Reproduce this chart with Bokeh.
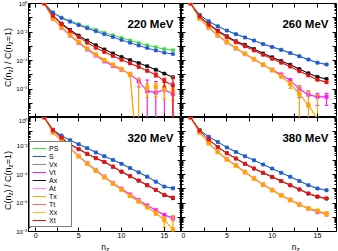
import numpy as np
from bokeh.plotting import figure
from bokeh.layouts import gridplot
from bokeh.models import (Range1d, FixedTicker, LinearAxis, LogAxis, Label,
                          Legend, LegendItem, CustomJSTickFormatter)
from bokeh.embed import file_html
from bokeh.resources import INLINE

FONT = "Liberation Sans"

# ---------------- data ----------------
n_z = [1, 2, 3, 4, 5, 6, 7, 8, 9, 10, 11, 12, 13, 14, 15, 16]
panel_titles = ["220 MeV", "260 MeV", "320 MeV", "380 MeV"]
channel_names = ["PS", "S", "Vx", "Vt", "Ax", "At", "Tx", "Tt", "Xx", "Xt"]

x_tick_values = [0, 2.5, 5, 7.5, 10, 12.5, 15]
x_tick_labels = ["0", "", "5", "", "10", "", "15"]
y_tick_values = [1e-8, 1e-7, 1e-6, 1e-5, 1e-4, 1e-3, 1e-2, 1e-1, 1e0]
y_tick_labels = ["10⁻⁸", "", "10⁻⁶", "", "10⁻⁴", "", "10⁻²", "", "10⁰"]

# 220 MeV
ps_220 = [1.0, 2.40e-1, 1.05e-1, 6.03e-2, 3.55e-2, 2.24e-2, 1.41e-2, 8.91e-3,
          5.89e-3, 3.89e-3, 2.51e-3, 1.70e-3, 1.17e-3, 8.51e-4, 6.31e-4, 5.25e-4]
s_220 = [1.0, 2.29e-1, 9.55e-2, 5.25e-2, 3.02e-2, 1.82e-2, 1.12e-2, 6.92e-3,
         4.37e-3, 2.75e-3, 1.74e-3, 1.12e-3, 7.41e-4, 5.01e-4, 3.55e-4, 2.82e-4]
va_x_220 = [1.0, 1.41e-1, 3.98e-2, 1.41e-2, 5.62e-3, 2.51e-3, 1.17e-3, 6.03e-4,
            3.16e-4, 1.78e-4, 1.07e-4, 6.61e-5, 3.98e-5, 2.24e-5, 1.20e-5, 6.61e-6]
tx_t_220 = [1.0, 1.32e-1, 3.55e-2, 1.17e-2, 4.47e-3, 1.78e-3, 7.94e-4, 3.98e-4,
            2.09e-4, 1.12e-4, 6.31e-5, 3.55e-5, 1.91e-5, 1.00e-5, 3.55e-6, 1.78e-6]
va_t_220 = [1.0, 8.32e-2, 2.00e-2, 5.62e-3, 1.78e-3, 6.03e-4, 2.24e-4, 8.91e-5,
            4.17e-5, 2.24e-5, 1.12e-5, 3.55e-6, 7.08e-7, 5.62e-7, 8.91e-7, 4.47e-7]
tx_x_220 = [1.0, 8.91e-2, 2.24e-2, 6.31e-3, 2.00e-3, 7.08e-4, 2.63e-4, 1.07e-4,
            5.01e-5, 2.51e-5, 1.05e-5, -2.0e-6, 1.26e-6, 1.41e-6, 1.00e-6, 7.94e-7]
va_t_err_220 = [0.01, 0.01, 0.01, 0.02, 0.02, 0.03, 0.04, 0.05, 0.08, 0.12, 0.2, 0.6, 5.0, 5.0, 4.0, 5.0]
tx_x_err_220 = [0.01, 0.01, 0.01, 0.02, 0.02, 0.03, 0.04, 0.06, 0.1, 0.15, 0.3, 3.5, 0.8, 0.8, 0.8, 0.8]
tx_t_err_220 = [0.01, 0.01, 0.01, 0.01, 0.02, 0.02, 0.02, 0.03, 0.04, 0.05, 0.08, 0.1, 0.15, 0.3, 0.6, 3.0]

# 260 MeV
ps_260 = [1.0, 1.58e-1, 5.62e-2, 2.51e-2, 1.26e-2, 7.08e-3, 4.17e-3, 2.51e-3,
          1.41e-3, 8.91e-4, 5.62e-4, 3.31e-4, 2.00e-4, 1.17e-4, 7.08e-5, 5.25e-5]
s_260 = [1.0, 1.58e-1, 5.62e-2, 2.51e-2, 1.26e-2, 7.08e-3, 4.17e-3, 2.51e-3,
         1.41e-3, 8.91e-4, 5.62e-4, 3.31e-4, 2.00e-4, 1.17e-4, 7.08e-5, 5.25e-5]
va_x_260 = [1.0, 1.26e-1, 3.55e-2, 1.26e-2, 5.01e-3, 2.24e-3, 1.26e-3, 6.31e-4,
            3.16e-4, 1.66e-4, 9.33e-5, 5.01e-5, 2.51e-5, 1.26e-5, 7.08e-6, 5.01e-6]
tx_t_260 = [1.0, 1.20e-1, 3.16e-2, 1.12e-2, 4.27e-3, 1.91e-3, 1.00e-3, 5.01e-4,
            2.51e-4, 1.32e-4, 7.08e-5, 3.72e-5, 1.78e-5, 8.91e-6, 4.47e-6, 3.02e-6]
va_t_260 = [1.0, 8.91e-2, 2.00e-2, 5.62e-3, 1.91e-3, 7.08e-4, 2.82e-4, 1.20e-4,
            5.01e-5, 2.24e-5, 1.05e-5, 3.98e-6, 1.00e-6, 3.98e-7, 2.82e-7, 2.82e-7]
tx_x_260 = [1.0, 8.91e-2, 2.09e-2, 6.03e-3, 2.00e-3, 7.59e-4, 3.02e-4, 1.26e-4,
            5.25e-5, 2.09e-5, 7.94e-6, 2.24e-6, 4.47e-7, 7.08e-8, 7.94e-9, -1.0e-7]
va_t_err_260 = [0.01, 0.01, 0.01, 0.02, 0.02, 0.03, 0.04, 0.05, 0.07, 0.1, 0.15, 0.3, 0.75, 0.75, 0.75, 0.75]
tx_x_err_260 = [0.01, 0.01, 0.01, 0.02, 0.02, 0.03, 0.04, 0.06, 0.1, 0.15, 0.25, 0.5, 2.5, 10.0, 50.0, 1.0]
tx_t_err_260 = [0.01, 0.01, 0.01, 0.01, 0.02, 0.02, 0.02, 0.03, 0.03, 0.04, 0.05, 0.06, 0.07, 0.08, 0.1, 0.1]

# 320 MeV
ps_320 = [1.0, 1.41e-1, 5.37e-2, 2.51e-2, 1.32e-2, 7.08e-3, 3.55e-3, 1.91e-3,
          1.05e-3, 5.62e-4, 2.82e-4, 1.41e-4, 7.08e-5, 3.16e-5, 1.41e-5, 1.07e-5]
s_320 = [1.0, 1.41e-1, 5.37e-2, 2.51e-2, 1.32e-2, 7.08e-3, 3.55e-3, 1.91e-3,
         1.05e-3, 5.62e-4, 2.82e-4, 1.41e-4, 7.08e-5, 3.16e-5, 1.41e-5, 1.07e-5]
va_x_320 = [1.0, 1.26e-1, 3.80e-2, 1.32e-2, 6.03e-3, 2.82e-3, 1.41e-3, 7.59e-4,
            3.55e-4, 1.58e-4, 7.59e-5, 3.72e-5, 1.78e-5, 8.32e-6, 3.55e-6, 2.19e-6]
tx_t_320 = [1.0, 1.26e-1, 3.80e-2, 1.32e-2, 6.03e-3, 2.82e-3, 1.41e-3, 7.59e-4,
            3.55e-4, 1.58e-4, 7.59e-5, 3.72e-5, 1.78e-5, 8.32e-6, 3.72e-6, 2.40e-6]
va_t_320 = [1.0, 8.91e-2, 2.51e-2, 7.08e-3, 2.00e-3, 6.31e-4, 2.09e-4, 7.08e-5,
            2.51e-5, 1.00e-5, 3.98e-6, 1.58e-6, 6.76e-7, 3.16e-7, 1.41e-7, 8.91e-8]
tx_x_320 = [1.0, 8.91e-2, 2.40e-2, 6.61e-3, 1.86e-3, 5.62e-4, 1.86e-4, 6.31e-5,
            2.24e-5, 8.51e-6, 3.16e-6, 1.26e-6, 5.01e-7, 2.00e-7, 6.31e-8, 1.41e-8]
va_t_err_320 = [0.01, 0.01, 0.01, 0.01, 0.02, 0.02, 0.02, 0.03, 0.03, 0.04, 0.05, 0.06, 0.08, 0.12, 0.3, 0.3]
tx_x_err_320 = [0.01, 0.01, 0.01, 0.01, 0.02, 0.02, 0.02, 0.03, 0.03, 0.04, 0.05, 0.08, 0.12, 0.3, 0.7, 8.0]
tx_t_err_320 = [0.01, 0.01, 0.01, 0.01, 0.01, 0.01, 0.02, 0.02, 0.02, 0.03, 0.03, 0.04, 0.04, 0.05, 0.06, 0.06]

# 380 MeV
ps_380 = [1.0, 1.32e-1, 4.47e-2, 1.91e-2, 7.94e-3, 3.80e-3, 1.91e-3, 1.00e-3,
          5.01e-4, 2.63e-4, 1.32e-4, 6.92e-5, 3.55e-5, 1.78e-5, 1.05e-5, 7.94e-6]
s_380 = [1.0, 1.32e-1, 4.47e-2, 1.91e-2, 7.94e-3, 3.80e-3, 1.91e-3, 1.00e-3,
         5.01e-4, 2.63e-4, 1.32e-4, 6.92e-5, 3.55e-5, 1.78e-5, 1.05e-5, 7.94e-6]
va_x_380 = [1.0, 1.17e-1, 2.82e-2, 8.51e-3, 3.16e-3, 1.32e-3, 5.62e-4, 2.63e-4,
            1.32e-4, 6.76e-5, 3.47e-5, 1.78e-5, 8.91e-6, 4.57e-6, 2.75e-6, 2.04e-6]
tx_t_380 = [1.0, 1.17e-1, 2.82e-2, 8.51e-3, 3.16e-3, 1.32e-3, 5.62e-4, 2.63e-4,
            1.32e-4, 6.76e-5, 3.47e-5, 1.78e-5, 8.91e-6, 4.68e-6, 2.82e-6, 2.09e-6]
va_t_380 = [1.0, 8.91e-2, 1.66e-2, 3.98e-3, 1.20e-3, 4.37e-4, 1.51e-4, 5.37e-5,
            2.00e-5, 8.32e-6, 3.55e-6, 1.66e-6, 7.94e-7, 3.98e-7, 2.40e-7, 1.66e-7]
tx_x_380 = [1.0, 8.91e-2, 1.58e-2, 3.80e-3, 1.15e-3, 4.17e-4, 1.45e-4, 5.13e-5,
            1.91e-5, 7.94e-6, 3.39e-6, 1.58e-6, 7.59e-7, 4.17e-7, 2.82e-7, 1.78e-7]
va_t_err_380 = [0.01, 0.01, 0.01, 0.01, 0.02, 0.02, 0.02, 0.03, 0.03, 0.04, 0.05, 0.06, 0.08, 0.12, 0.2, 0.25]
tx_x_err_380 = [0.01, 0.01, 0.01, 0.01, 0.02, 0.02, 0.02, 0.03, 0.03, 0.04, 0.05, 0.06, 0.08, 0.15, 0.25, 0.3]
tx_t_err_380 = [0.01, 0.01, 0.01, 0.01, 0.01, 0.01, 0.02, 0.02, 0.02, 0.03, 0.03, 0.04, 0.04, 0.05, 0.06, 0.06]

default_relerr = 0.03

panels = [
    dict(PS=ps_220, S=s_220, Vx=va_x_220, Ax=va_x_220, Vt=va_t_220, At=va_t_220,
         Tx=tx_x_220, Xx=tx_x_220, Tt=tx_t_220, Xt=tx_t_220,
         err=dict(Vt=va_t_err_220, At=va_t_err_220, Tx=tx_x_err_220, Xx=tx_x_err_220,
                  Tt=tx_t_err_220, Xt=tx_t_err_220)),
    dict(PS=ps_260, S=s_260, Vx=va_x_260, Ax=va_x_260, Vt=va_t_260, At=va_t_260,
         Tx=tx_x_260, Xx=tx_x_260, Tt=tx_t_260, Xt=tx_t_260,
         err=dict(Vt=va_t_err_260, At=va_t_err_260, Tx=tx_x_err_260, Xx=tx_x_err_260,
                  Tt=tx_t_err_260, Xt=tx_t_err_260)),
    dict(PS=ps_320, S=s_320, Vx=va_x_320, Ax=va_x_320, Vt=va_t_320, At=va_t_320,
         Tx=tx_x_320, Xx=tx_x_320, Tt=tx_t_320, Xt=tx_t_320,
         err=dict(Vt=va_t_err_320, At=va_t_err_320, Tx=tx_x_err_320, Xx=tx_x_err_320,
                  Tt=tx_t_err_320, Xt=tx_t_err_320)),
    dict(PS=ps_380, S=s_380, Vx=va_x_380, Ax=va_x_380, Vt=va_t_380, At=va_t_380,
         Tx=tx_x_380, Xx=tx_x_380, Tt=tx_t_380, Xt=tx_t_380,
         err=dict(Vt=va_t_err_380, At=va_t_err_380, Tx=tx_x_err_380, Xx=tx_x_err_380,
                  Tt=tx_t_err_380, Xt=tx_t_err_380)),
]

# ---------------- style ----------------
styles = {
    "PS": dict(color="#3ddc3d", lw=1.0, size=3.0),
    "S":  dict(color="#2a52e8", lw=1.0, size=3.0),
    "Vx": dict(color="#8c8c8c", lw=1.0, size=3.0),
    "Ax": dict(color="#111111", lw=1.0, size=3.0),
    "At": dict(color="#ff8cff", lw=1.2, size=4.0),
    "Vt": dict(color="#f020f0", lw=1.0, size=3.0),
    "Xx": dict(color="#ffc04d", lw=1.2, size=4.0),
    "Tx": dict(color="#ffa000", lw=1.0, size=3.0),
    "Tt": dict(color="#ff6a6a", lw=1.0, size=3.0),
    "Xt": dict(color="#e81010", lw=1.0, size=3.0),
}
draw_order = ["PS", "S", "Vx", "Ax", "At", "Vt", "Xx", "Tx", "Tt", "Xt"]

y_minor = [k * 10.0 ** d for d in range(-8, 0) for k in range(2, 10)]

FRAME_W, FRAME_H = 155, 114
YLAB_W = 13          # column holding the rotated y label
TICKLAB_W = 13       # border for the y tick labels
TOP_B = 3
RIGHT_B = 2
XTICK_H = 9          # border for the x tick labels
XLAB_H = 11          # row holding the n_z label


def borders(idx):
    left = idx % 2 == 0
    top = idx < 2
    return dict(l=TICKLAB_W if left else 0, r=0 if left else RIGHT_B,
                t=TOP_B if top else 0, b=0 if top else XTICK_H)


def x_range_for(idx):
    return Range1d(-0.85, 17.0) if idx % 2 == 0 else Range1d(0.0, 17.1)


def x_formatter(show):
    labels = x_tick_labels if show else [""] * len(x_tick_labels)
    return CustomJSTickFormatter(args=dict(vals=x_tick_values, labels=labels), code="""
        for (let i = 0; i < vals.length; i++) { if (Math.abs(tick - vals[i]) < 1e-9) return labels[i]; }
        return "";""")


def y_formatter(labels):
    return CustomJSTickFormatter(args=dict(vals=y_tick_values, labels=labels), code="""
        const lt = Math.log10(tick);
        for (let i = 0; i < vals.length; i++) { if (Math.abs(lt - Math.log10(vals[i])) < 1e-6) return labels[i]; }
        return "";""")


def style_axis(ax, show, size):
    ax.axis_line_color = None
    ax.major_tick_in = 4
    ax.major_tick_out = 0
    ax.minor_tick_in = 2
    ax.minor_tick_out = 0
    ax.major_tick_line_color = "black"
    ax.minor_tick_line_color = "black"
    ax.major_label_text_font = FONT
    ax.major_label_text_color = "black"
    ax.major_label_text_font_size = size if show else "0px"
    ax.major_label_standoff = 1 if show else 0


def char_width(s, fs):
    w = {'C': 0.722, '(': 0.333, ')': 0.333, 'n': 0.556, 'z': 0.5, ' ': 0.278,
         '/': 0.278, '=': 0.584, '1': 0.556}
    return sum(w.get(c, 0.55) for c in s) * fs


def bare_figure(width, height, xr, yr, y_log, b):
    f = figure(width=width, height=height, x_range=xr, y_range=yr,
               y_axis_type="log" if y_log else "linear",
               x_axis_location=None, y_axis_location=None,
               toolbar_location=None, output_backend="svg",
               min_border_left=b["l"], min_border_right=b["r"],
               min_border_top=b["t"], min_border_bottom=b["b"])
    f.outline_line_color = None
    f.background_fill_color = "white"
    f.border_fill_color = "white"
    for g in f.grid:
        g.visible = False
    return f


def make_panel(idx):
    left = idx % 2 == 0
    top = idx < 2
    b = borders(idx)
    xr = x_range_for(idx)
    yr = Range1d(1e-8, 1.0)
    p = bare_figure(FRAME_W + b["l"] + b["r"], FRAME_H + b["t"] + b["b"], xr, yr, True, b)
    p.outline_line_color = "black"
    p.outline_line_width = 1

    # axes: ticks on all four sides, pointing inward; the unlabeled ones take no room
    for loc in ["below", "above"]:
        show = (loc == "below") and not top
        ax = LinearAxis(ticker=FixedTicker(ticks=x_tick_values, minor_ticks=[]),
                        formatter=x_formatter(show))
        style_axis(ax, show, "7px")
        if not show:
            ax.fixed_location = yr.start if loc == "below" else yr.end
        p.add_layout(ax, loc)
    for loc in ["left", "right"]:
        show = (loc == "left") and left
        if show:
            labels = list(y_tick_labels)
            if top:
                labels[0] = ""
        else:
            labels = [""] * len(y_tick_labels)
        ax = LogAxis(ticker=FixedTicker(ticks=y_tick_values, minor_ticks=y_minor),
                     formatter=y_formatter(labels))
        style_axis(ax, show, "6px")
        if not show:
            ax.fixed_location = xr.start if loc == "left" else xr.end
        p.add_layout(ax, loc)

    data = panels[idx]
    line_renderers = {}
    x = np.array(n_z, dtype=float)
    for ch in draw_order:
        st = styles[ch]
        v = np.array(data[ch], dtype=float)
        rel = np.array(data["err"].get(ch, [default_relerr] * len(v)), dtype=float)
        sig = np.abs(v) * rel
        up = v + sig
        lo = v - sig
        # line follows the points and drops off the axis at the first non-positive value
        yl = v.copy()
        bad = np.where(v <= 0)[0]
        if len(bad):
            k = bad[0]
            yl[k] = 1e-12
            yl[k + 1:] = np.nan
        ypt = np.where(v > 0, v, np.nan)
        seg_lo = np.where(lo > 0, lo, 1e-12)
        seg_up = np.where(up > 0, up, np.nan)
        cap_lo = np.where(lo > 0, lo, np.nan)
        c = st["color"]
        p.segment(x0=x, y0=seg_lo, x1=x, y1=seg_up, line_color=c, line_width=1)
        p.scatter(x=x, y=seg_up, marker="dash", size=3.5, line_color=c, line_width=1)
        p.scatter(x=x, y=cap_lo, marker="dash", size=3.5, line_color=c, line_width=1)
        r = p.line(x=x, y=yl, line_color=c, line_width=st["lw"])
        p.scatter(x=x, y=ypt, marker="square", size=st["size"], fill_color=c,
                  line_color=c, line_width=0.5)
        line_renderers[ch] = r

    # temperature label
    p.add_layout(Label(x=xr.end, y=yr.end, x_offset=-8, y_offset=-20,
                       text=panel_titles[idx], text_align="right",
                       text_baseline="middle", text_font=FONT,
                       text_font_size="11.5px", text_font_style="bold",
                       text_color="black"))

    if idx == 2:
        items = [LegendItem(label=ch, renderers=[line_renderers[ch]]) for ch in channel_names]
        lg = Legend(items=items, location=(1, 4))
        lg.border_line_color = "black"
        lg.border_line_width = 1
        lg.background_fill_color = "white"
        lg.background_fill_alpha = 1.0
        lg.label_text_font = FONT
        lg.label_text_font_size = "7px"
        lg.label_text_color = "black"
        lg.glyph_width = 14
        lg.glyph_height = 8
        lg.label_height = 8
        lg.label_standoff = 3
        lg.padding = 2
        lg.spacing = 0
        lg.margin = 0
        p.add_layout(lg)
    return p


def make_ylabel(row):
    top = row == 0
    b = dict(l=0, r=0, t=TOP_B if top else 0, b=0 if top else XTICK_H)
    f = bare_figure(YLAB_W, FRAME_H + b["t"] + b["b"], Range1d(0, YLAB_W),
                    Range1d(1e-8, 1.0), True, b)
    pieces = [("C(n", False), ("z", True), (") / C(n", False), ("z", True), ("=1)", False)]
    fs_main, fs_sub = 9.0, 6.3
    total = sum(char_width(s, fs_sub if sub else fs_main) for s, sub in pieces)
    shift = 3 if top else -6
    pos = -total / 2 + shift
    for s, sub in pieces:
        fs = fs_sub if sub else fs_main
        f.add_layout(Label(x=7.5, y=1e-4, x_offset=(2.3 if sub else 0),
                           y_offset=pos, text=s, angle=np.pi / 2,
                           text_align="left", text_baseline="middle",
                           text_font=FONT, text_font_size=f"{fs}px",
                           text_color="black"))
        pos += char_width(s, fs)
    return f


def make_xlabel(idx):
    b = borders(idx)
    bb = dict(l=b["l"], r=b["r"], t=0, b=0)
    xr = x_range_for(idx)
    f = bare_figure(FRAME_W + b["l"] + b["r"], XLAB_H, xr, Range1d(0, XLAB_H), False, bb)
    left = idx % 2 == 0
    cx = (xr.start + xr.end) / 2 if left else 12.6
    wn = char_width("n", 8.5)
    wz = char_width("z", 6.0)
    f.add_layout(Label(x=cx, y=5.5, x_offset=-(wn + wz) / 2,
                       text="n", text_align="left", text_baseline="middle",
                       text_font=FONT, text_font_size="8.5px", text_color="black"))
    f.add_layout(Label(x=cx, y=3.6, x_offset=-(wn + wz) / 2 + wn + 0.3,
                       text="z", text_align="left",
                       text_baseline="middle", text_font=FONT,
                       text_font_size="6px", text_color="black"))
    return f


figs = [make_panel(i) for i in range(4)]
grid = gridplot([[make_ylabel(0), figs[0], figs[1]],
                 [make_ylabel(1), figs[2], figs[3]],
                 [None, make_xlabel(2), make_xlabel(3)]],
                toolbar_location=None)

open("out.html", "w").write(file_html(grid, INLINE))
